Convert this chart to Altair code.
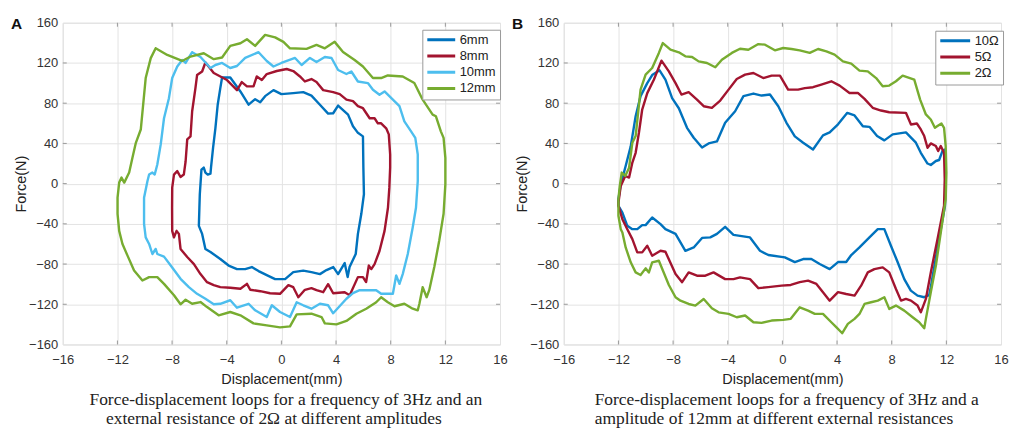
import altair as alt
import pandas as pd

# ---------------- data ----------------
X_TICKS = [-16, -12, -8, -4, 0, 4, 8, 12, 16]
Y_TICKS = [-160, -120, -80, -40, 0, 40, 80, 120, 160]

A_NAMES = ["6mm", "8mm", "10mm", "12mm"]
A_COLORS = ["#0072BD", "#A2142F", "#4DBEEE", "#77AC30"]
B_NAMES = ["10Ω", "5Ω", "2Ω"]
B_COLORS = ["#0072BD", "#A2142F", "#77AC30"]

A_CAPTION = ["Force-displacement loops for a frequency of 3Hz and an",
             "external resistance of 2Ω at different amplitudes"]
B_CAPTION = ["Force-displacement loops for a frequency of 3Hz and a",
             "amplitude of 12mm at different external resistances"]

A_6MM = [[-4.34, 105.6], [-3.74, 105.6], [-3.0, 91.7], [-2.4, 78.5], [-1.92, 84], [-1.55, 81],
         [-1.19, 87], [-0.58, 93], [0, 89], [0.87, 90], [1.6, 91], [2.2, 87.5], [2.82, 78.5],
         [3.42, 69.6], [3.79, 70], [4.15, 77.6], [4.88, 68.6], [5.24, 57], [5.6, 50.5], [5.97, 47],
         [6.0, 16], [6.04, -10.6], [5.85, -30], [5.6, -50], [5.44, -70], [4.99, -83], [4.85, -93],
         [4.63, -79], [4.5, -82], [4.15, -90], [3.8, -83], [3.3, -86], [2.82, -90], [2.2, -88],
         [1.6, -86.5], [0.87, -88], [0.27, -95], [-0.46, -95], [-1.07, -91], [-1.67, -87],
         [-2.16, -83], [-2.65, -85], [-3.25, -85], [-3.86, -81.5], [-4.47, -75], [-5.19, -68],
         [-5.56, -65], [-5.8, -50], [-6.04, -42], [-6.0, -24], [-5.97, -10.6], [-5.85, 14],
         [-5.68, 16], [-5.56, 11], [-5.39, 9], [-5.19, 10], [-5.15, 16], [-5.0, 35.6], [-4.83, 55],
         [-4.66, 78.5], [-4.47, 95]]

A_8MM = [[-5.56, 120.5], [-4.95, 110], [-3.98, 103], [-3.25, 93], [-2.9, 101], [-2.52, 96.7],
         [-2.04, 96.7], [-1.8, 106.6], [-1.43, 103], [-1.07, 109], [-0.34, 112], [0.39, 114],
         [0.87, 112], [1.36, 106.6], [1.72, 101.6], [2.2, 104], [2.57, 101], [3.06, 93], [3.79, 91],
         [4.27, 89], [4.76, 83.5], [5.24, 82], [5.6, 77], [5.97, 75], [6.46, 65], [6.82, 65],
         [7.06, 60], [7.3, 60], [7.67, 55], [7.86, 49], [7.96, 29], [7.96, 16], [7.9, -4],
         [7.8, -24], [7.55, -47], [7.18, -67], [6.82, -80], [6.58, -85], [6.4, -81.5], [6.2, -98],
         [5.97, -93], [5.6, -93], [5.0, -111], [4.63, -108], [3.79, -109], [3.42, -100],
         [3.06, -108], [2.57, -106], [2.2, -104], [1.72, -105.6], [1.24, -113], [0.87, -103],
         [0.51, -101], [-0.1, -109.6], [-0.83, -109], [-1.55, -107], [-2.28, -105.6], [-2.52, -99.7],
         [-3.0, -104.6], [-3.74, -103.6], [-4.47, -103], [-4.95, -101], [-5.44, -98], [-5.92, -90],
         [-6.4, -80], [-6.89, -73], [-7.38, -65], [-7.5, -50], [-7.67, -47], [-7.86, -53.5],
         [-7.99, -47], [-8.0, -24], [-7.99, -4], [-7.86, 9], [-7.62, 12.5], [-7.38, 6.6],
         [-7.14, 9], [-7.01, 22], [-6.89, 44], [-6.65, 47], [-6.53, 72], [-6.29, 95], [-6.17, 108],
         [-5.8, 111.5]]

A_10MM = [[-6.53, 130.7], [-5.92, 126], [-5.19, 115], [-4.83, 118], [-4.34, 120], [-3.74, 115],
          [-3.25, 117], [-2.65, 125], [-1.67, 130.7], [-1.07, 122], [-0.58, 116.5], [0, 120],
          [1.0, 125], [1.48, 118], [2.09, 125], [2.57, 121], [3.18, 126], [3.67, 125], [4.15, 113],
          [4.76, 109], [5.12, 111.5], [5.6, 101.6], [6.33, 100], [6.7, 93.4], [7.18, 88.4],
          [7.55, 91.7], [8.16, 83.5], [8.64, 77], [9.0, 62], [9.49, 52], [9.8, 45.5], [9.98, 29],
          [9.98, 2.6], [9.85, -24], [9.61, -43.6], [9.25, -70], [8.88, -90], [8.64, -99.7],
          [8.4, -91.4], [8.16, -109.6], [7.3, -109.6], [6.94, -106], [5.73, -106], [5.24, -109],
          [4.76, -114.5], [3.79, -129], [3.42, -121], [2.82, -119.5], [2.2, -124.4], [1.6, -121],
          [1.12, -118], [0.63, -132.7], [-0.1, -127.7], [-0.7, -121], [-1.07, -132.7], [-1.92, -126],
          [-2.4, -119.5], [-3.25, -123.4], [-3.74, -116], [-4.47, -119.5], [-4.95, -120],
          [-5.56, -114.5], [-6.17, -109.6], [-6.77, -103], [-7.38, -94.7], [-8.1, -81.5],
          [-8.59, -72.6], [-9.08, -70], [-9.2, -65], [-9.44, -70], [-9.68, -60], [-9.93, -53.5],
          [-10.05, -40], [-10.05, -14], [-9.8, 2.6], [-9.68, 9], [-9.44, 11], [-9.27, 9],
          [-9.08, 19], [-8.83, 39], [-8.59, 65], [-8.23, 85], [-7.99, 105], [-7.62, 116.5],
          [-7.26, 123], [-7.01, 120]]

A_12MM = [[-9.2, 134.6], [-8.35, 128], [-7.26, 122], [-6.65, 126.4], [-5.68, 129.7], [-4.95, 123.8],
          [-4.34, 125.4], [-3.74, 137], [-3.0, 139.6], [-2.52, 143.6], [-1.92, 137], [-1.19, 147.9],
          [-0.46, 145.5], [0.15, 141], [0.63, 134.6], [1.84, 134], [2.57, 138], [3.18, 134.6],
          [3.9, 141], [4.51, 131], [5.36, 123], [5.97, 116.5], [6.7, 105], [7.3, 105], [7.79, 107.6],
          [8.88, 106.6], [9.73, 100], [10.34, 83.5], [11.07, 68.6], [11.31, 67], [11.67, 52],
          [11.87, 45.5], [12.0, 25.7], [12.0, -0.7], [11.87, -30], [11.55, -56.8], [11.19, -83],
          [10.82, -106], [10.63, -113], [10.34, -103], [10.1, -119.5], [9.98, -126], [9.61, -124.4],
          [9.0, -119.5], [8.28, -122], [7.79, -118], [7.3, -113], [6.94, -118], [6.21, -124.4],
          [5.49, -129.4], [4.76, -136.6], [4.03, -140], [3.18, -139], [2.94, -132.7], [2.2, -129.4],
          [1.12, -130], [0.63, -142], [-0.1, -143], [-1.07, -141], [-2.04, -139], [-3.0, -131],
          [-3.74, -127.7], [-4.59, -131], [-5.44, -122.8], [-5.92, -117.8], [-6.53, -119.5],
          [-7.01, -115.5], [-7.38, -120], [-7.86, -111], [-8.59, -99.7], [-9.08, -93], [-9.68, -93],
          [-10.17, -96.4], [-10.78, -86.5], [-11.26, -71.6], [-11.63, -60], [-11.87, -47],
          [-11.99, -30], [-11.99, -14], [-11.87, 1], [-11.7, 6], [-11.5, 1], [-11.14, 11],
          [-10.9, 25.7], [-10.65, 40.6], [-10.29, 53.8], [-9.93, 105], [-9.56, 124.8]]

B_10OHM = [[-12.0, -15.5], [-11.83, -0.7], [-11.47, 17.5], [-11.1, 37], [-10.74, 67], [-10.38, 87],
           [-9.89, 100], [-9.53, 108], [-8.99, 112.7], [-8.56, 103.5], [-8.07, 85], [-7.58, 75],
           [-6.98, 55.5], [-6.49, 45.6], [-5.88, 36], [-5.4, 40], [-4.79, 42], [-4.19, 60.5],
           [-3.46, 72], [-2.85, 87], [-2.12, 89.6], [-1.52, 87.6], [-0.91, 88.6], [-0.3, 77],
           [0.3, 60.5], [0.91, 47], [1.52, 40.7], [2.24, 34], [2.97, 48], [3.46, 51], [4.07, 59],
           [4.75, 70.4], [5.28, 67.8], [5.89, 57], [6.37, 56.5], [6.93, 47.3], [7.46, 43],
           [8.07, 49], [9.04, 51], [9.77, 40.7], [10.13, 30.7], [10.62, 20], [10.86, 18.5],
           [11.23, 22.5], [11.47, 23.5], [11.71, 32.4], [11.9, 34], [11.95, 11], [11.9, -22],
           [11.4, -60], [10.86, -103], [10.74, -111], [10.38, -113], [9.89, -111.4], [9.4, -106.4],
           [8.92, -95], [8.43, -78], [7.95, -62], [7.46, -45.3], [6.98, -45.3], [6.37, -53.5],
           [5.64, -63.5], [5.04, -71], [4.67, -78], [4.07, -78], [3.46, -85], [2.73, -80],
           [2.12, -75], [1.52, -75], [0.91, -78], [0.18, -73.4], [-1.03, -71], [-1.64, -66.8],
           [-2.37, -53.5], [-3.1, -52], [-3.58, -51], [-4.19, -43], [-4.79, -50], [-5.28, -53.5],
           [-5.88, -54], [-6.49, -63.5], [-7.1, -66.8], [-7.46, -58.5], [-7.82, -50], [-8.56, -45.3],
           [-8.92, -40.3], [-9.53, -33.7], [-10.01, -41.3], [-10.26, -41.3], [-10.62, -45.3],
           [-10.98, -45.3], [-11.35, -42], [-11.71, -28.8], [-12.0, -22]]

B_5OHM = [[-12.0, -19], [-11.83, -2.3], [-11.5, 7.6], [-11.22, 6], [-10.98, 21], [-10.74, 30.7],
          [-10.5, 50.6], [-10.26, 73.7], [-9.89, 90], [-9.4, 103.5], [-8.85, 122.3], [-8.31, 111.7],
          [-7.82, 100], [-7.39, 88.6], [-6.86, 91], [-6.25, 83.6], [-5.76, 77], [-5.16, 75.4],
          [-4.55, 82.6], [-3.94, 93.5], [-3.34, 104], [-2.73, 108.4], [-2.12, 110], [-1.4, 105],
          [-0.79, 107.4], [-0.18, 107.4], [0.42, 93.5], [1.15, 93.5], [1.64, 95], [2.24, 95.9],
          [2.85, 98.5], [3.58, 101.8], [4.19, 97.5], [4.91, 90.2], [5.52, 90.2], [6.01, 84.3],
          [6.61, 75.4], [7.22, 72.7], [7.82, 71], [9.04, 70.4], [9.41, 58.8], [9.84, 59.8],
          [10.13, 53.9], [10.38, 47.3], [10.62, 35.7], [10.86, 40], [11.23, 37.4], [11.4, 32.4],
          [11.59, 37.4], [11.83, 30.7], [11.88, 4.3], [11.83, -22], [11.35, -55.2], [10.86, -88.3],
          [10.5, -114.7], [10.13, -128], [9.89, -121.3], [9.41, -116.4], [9.04, -114.7],
          [8.68, -116.4], [8.31, -104.8], [7.82, -88.3], [7.34, -83.3], [6.73, -85], [6.25, -88.3],
          [5.76, -101.5], [5.28, -111.4], [4.67, -109.8], [4.07, -108], [3.46, -116.4], [2.97, -108],
          [2.49, -99.8], [1.88, -96.5], [1.27, -98], [0.61, -100.8], [-0.06, -101.5], [-1.03, -103],
          [-1.76, -104], [-2.37, -95], [-3.1, -93.2], [-3.58, -95], [-4.19, -95], [-5.04, -88.3],
          [-5.64, -91.6], [-6.25, -91.6], [-6.86, -88.3], [-7.34, -98], [-7.82, -90], [-8.56, -67.8],
          [-8.92, -66.8], [-9.53, -71.7], [-9.89, -61.8], [-10.26, -68.4], [-10.62, -68.4],
          [-10.98, -55.2], [-11.35, -45.3], [-11.71, -35.4], [-12.0, -22]]

B_2OHM = [[-12.0, -15.5], [-11.9, -2.3], [-11.76, 11], [-11.5, 7.6], [-11.22, 15.9], [-10.98, 40.7],
          [-10.74, 47.3], [-10.38, 93.5], [-10.01, 108.4], [-9.53, 115], [-9.04, 130], [-8.75, 139.8],
          [-8.19, 133.2], [-7.58, 130.6], [-7.1, 126.6], [-6.61, 126], [-6.13, 121.6], [-5.52, 120],
          [-4.91, 115.7], [-4.43, 123.3], [-3.7, 130], [-3.1, 134.2], [-2.49, 133.2], [-1.76, 138.8],
          [-1.27, 138.2], [-0.55, 132.6], [0.06, 134.9], [0.67, 133.9], [1.27, 132.6], [2.0, 130],
          [2.61, 133.9], [3.22, 131.6], [3.82, 128.3], [4.43, 121.6], [5.04, 119.3], [5.64, 112.4],
          [6.25, 111.7], [6.86, 105], [7.34, 96.9], [7.82, 97.5], [8.31, 101.8], [8.8, 107.4],
          [9.65, 103.5], [10.08, 83.6], [10.5, 68.8], [10.86, 63.8], [11.16, 55.5], [11.35, 57.2],
          [11.64, 59.8], [11.83, 55.5], [11.95, 37.4], [12.0, 11], [11.95, -15.5], [11.59, -48.6],
          [11.23, -81.7], [10.86, -108], [10.5, -134.5], [10.38, -143.8], [10.01, -137.9],
          [9.53, -132.9], [8.92, -126.3], [8.31, -121.3], [7.82, -124.6], [7.46, -113], [6.98, -116.4],
          [6.49, -118], [6.01, -119.7], [5.64, -129.6], [5.28, -134.5], [4.79, -139.5], [4.38, -148.8],
          [3.94, -142.8], [3.58, -137.9], [2.97, -129.6], [2.37, -129.6], [1.88, -126.3], [1.27, -123],
          [0.61, -134.5], [0.06, -135.5], [-0.79, -136.2], [-1.52, -138.5], [-2.12, -137.9],
          [-2.73, -131.2], [-3.34, -132.9], [-3.94, -129.6], [-4.67, -128], [-5.16, -124],
          [-5.76, -114.7], [-6.37, -121.3], [-6.86, -119.7], [-7.46, -116.4], [-7.82, -113],
          [-8.31, -100.8], [-9.04, -76.7], [-9.53, -78.3], [-9.77, -88.3], [-10.01, -84.3],
          [-10.38, -90.9], [-10.74, -88.3], [-11.1, -78.3], [-11.47, -63.5], [-11.71, -48.6],
          [-11.83, -45.3], [-12.0, -32]]

# ---------------- layout / style ----------------
W, H = 439, 323
SANS = "Liberation Sans"
SERIF = "Liberation Serif"
GRID = "#e3e3e3"
BOX = "#999999"


def loops_df(names, loops):
    rows = []
    for name, pts in zip(names, loops):
        closed = list(pts) + [pts[0]]
        for i, (x, y) in enumerate(closed):
            rows.append({"series": name, "x": x, "y": y, "order": i})
    return pd.DataFrame(rows)


def panel(names, colors, loops, letter, caption, cap_x, cap_align, leg_x, leg_y, sym_len):
    df = loops_df(names, loops)
    xs = alt.Scale(domain=[-16, 16], nice=False, zero=False)
    ys = alt.Scale(domain=[-160, 160], nice=False, zero=False)
    xaxis = alt.Axis(values=X_TICKS, title="Displacement(mm)", grid=True, gridColor=GRID,
                     domain=False, ticks=False, tickSize=0, labelPadding=9, labelFlush=False,
                     labelOverlap=False, labelFont=SANS, labelFontSize=13, labelColor="#333",
                     titleFont=SANS, titleFontSize=14.5, titleFontWeight="normal",
                     titleColor="#222", titlePadding=6)
    yaxis = alt.Axis(values=Y_TICKS, title="Force(N)", grid=True, gridColor=GRID,
                     domain=False, ticks=False, tickSize=0, labelPadding=5, labelFlush=False,
                     labelOverlap=False, labelFont=SANS, labelFontSize=13, labelColor="#333",
                     titleFont=SANS, titleFontSize=14.5, titleFontWeight="normal",
                     titleColor="#222", titlePadding=2, minExtent=32, maxExtent=32)
    legend = alt.Legend(orient="none", legendX=leg_x, legendY=leg_y, title=None,
                        symbolType="stroke", symbolStrokeWidth=3, symbolSize=sym_len * sym_len,
                        labelFont=SANS, labelFontSize=13, labelColor="#222",
                        strokeColor=BOX, fillColor="white", padding=3.5, rowPadding=2.3,
                        clipHeight=13, labelOffset=3)
    lines = alt.Chart(df).mark_line(strokeWidth=2.4, strokeJoin="round", strokeCap="round").encode(
        x=alt.X("x:Q", scale=xs, axis=xaxis),
        y=alt.Y("y:Q", scale=ys, axis=yaxis),
        color=alt.Color("series:N", sort=names,
                        scale=alt.Scale(domain=names, range=colors), legend=legend),
        order=alt.Order("order:Q"),
    )
    xt = pd.DataFrame({"x": X_TICKS[1:-1]})
    yt = pd.DataFrame({"y": Y_TICKS[1:-1]})
    tick_top = alt.Chart(xt).mark_rule(color=BOX, strokeWidth=1).encode(
        x=alt.X("x:Q", scale=xs), y=alt.value(0), y2=alt.value(4))
    tick_bot = alt.Chart(xt).mark_rule(color=BOX, strokeWidth=1).encode(
        x=alt.X("x:Q", scale=xs), y=alt.value(H), y2=alt.value(H - 4))
    tick_left = alt.Chart(yt).mark_rule(color=BOX, strokeWidth=1).encode(
        y=alt.Y("y:Q", scale=ys), x=alt.value(0), x2=alt.value(4))
    tick_right = alt.Chart(yt).mark_rule(color=BOX, strokeWidth=1).encode(
        y=alt.Y("y:Q", scale=ys), x=alt.value(W), x2=alt.value(W - 4))

    letter_mark = alt.Chart(pd.DataFrame({"t": [letter]})).mark_text(
        font=SANS, fontSize=15.5, fontWeight="bold", color="#111", align="left",
        baseline="alphabetic").encode(text="t:N", x=alt.value(-52), y=alt.value(6))
    cap1 = alt.Chart(pd.DataFrame({"t": [caption[0]]})).mark_text(
        font=SERIF, fontSize=17.5, color="#222", align=cap_align[0],
        baseline="alphabetic").encode(text="t:N", x=alt.value(cap_x[0]), y=alt.value(384))
    cap2 = alt.Chart(pd.DataFrame({"t": [caption[1]]})).mark_text(
        font=SERIF, fontSize=17.5, color="#222", align=cap_align[1],
        baseline="alphabetic").encode(text="t:N", x=alt.value(cap_x[1]), y=alt.value(403))

    return alt.layer(lines, tick_top, tick_bot, tick_left, tick_right,
                     letter_mark, cap1, cap2).properties(width=W, height=H)


panel_a = panel(A_NAMES, A_COLORS, [A_6MM, A_8MM, A_10MM, A_12MM], "A", A_CAPTION,
                [224, 212], ["center", "center"], 361, 7, 28)
panel_b = panel(B_NAMES, B_COLORS, [B_10OHM, B_5OHM, B_2OHM], "B", B_CAPTION,
                [31, 31], ["left", "left"], 373, 8, 30)

chart = alt.hconcat(panel_a, panel_b, spacing=3).resolve_scale(color="independent").properties(
    padding={"left": 10, "top": 15, "right": 0, "bottom": 0}
).configure_view(stroke=BOX, strokeWidth=1).configure(background="white")

chart.save("out.html", embed_options={"renderer": "svg", "actions": False})
